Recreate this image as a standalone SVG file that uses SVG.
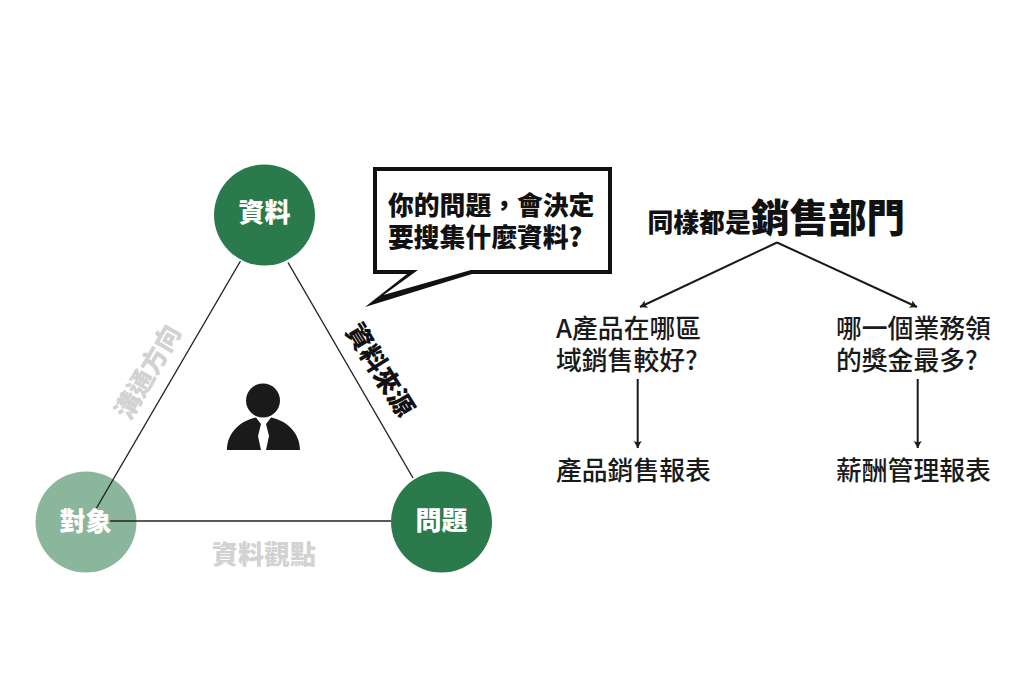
<svg xmlns="http://www.w3.org/2000/svg" width="1024" height="683" viewBox="0 0 1024 683">
<style>
text{font-family:"Noto Sans CJK TC","Liberation Sans",sans-serif}
.b{font-weight:900}
.lab{font-size:26px;font-weight:900;text-anchor:middle}
.w{fill:#fff}
.g{fill:#d2d2d2}
.k{fill:#111}
.t{font-size:25.8px;fill:#1a1a1a;font-weight:500}
.thin{stroke:#222;stroke-width:1.4;fill:none}
.arr{stroke:#1a1a1a;stroke-width:2;fill:none;marker-end:url(#ah)}
</style>
<defs>
<marker id="ah" markerUnits="userSpaceOnUse" markerWidth="9" markerHeight="9" refX="7" refY="4" orient="auto">
<path d="M0 0L7 4L0 8L1.5 4Z" fill="#1a1a1a"/>
</marker>
</defs>
<rect width="1024" height="683" fill="#fff"/>
<g id="node-data"><circle cx="264.500" cy="215" r="50.500" fill="#2b7a4b"/><text class="lab w" x="264.500" y="222">資料</text></g>
<g id="node-target"><circle cx="86" cy="522" r="50.500" fill="#8ab69b"/><text class="lab w" x="85.500" y="531">對象</text></g>
<g id="node-question"><circle cx="441.500" cy="522" r="50.500" fill="#2b7a4b"/><text class="lab w" x="441.500" y="530">問題</text></g>
<g id="connectors">
<path class="thin" d="M240.500 261L96.500 508"/>
<path class="thin" d="M288 262.500L413 478"/>
<path class="thin" d="M110 521H391"/>
<path class="arr" d="M777 242.500L640 307"/>
<path class="arr" d="M777 242.500L917 307"/>
<path class="arr" d="M637.700 379V448"/>
<path class="arr" d="M917.700 379V448"/>
</g>
<g id="person">
<circle cx="263" cy="400.500" r="17" fill="#1a1a1a"/>
<path fill="#1a1a1a" d="M227 450C227 434 239 421 256 417.500L259 421.500L261 424L258 436L261 450ZM300 450C300 434 288 421 271 417.500L268 421.500L266 424L269 436L266 450Z"/>
</g>
<g id="bubble">
<path d="M373 167H612V274H472L365 307L407 274H373Z" fill="#111"/>
<path d="M377 171H608V270H471L383.500 295L418 270H377Z" fill="#fff"/>
<text class="b k" font-size="25.800" x="388" y="215">你的問題&#65292;會決定</text>
<text class="b k" font-size="25.800" x="388" y="247">要搜集什麼資料?</text>
</g>
<g id="edge-labels">
<text class="lab k" transform="translate(380 370) rotate(58)" y="9">資料來源</text>
<text class="lab g" transform="translate(148 372) rotate(-60)" y="9">溝通方向</text>
<text class="lab g" x="264" y="564">資料觀點</text>
</g>
<g id="title">
<text class="b k" font-size="25.800" x="647.500" y="232">同樣都是</text>
<text class="b k" font-size="38.500" x="751" y="232">銷售部門</text>
</g>
<g id="q-left">
<text class="t" x="556" y="338">A產品在哪區</text>
<text class="t" x="556" y="370">域銷售較好?</text>
</g>
<g id="q-right">
<text class="t" x="836" y="338">哪一個業務領</text>
<text class="t" x="836" y="370">的獎金最多?</text>
</g>
<g id="report-left"><text class="t" x="556" y="480">產品銷售報表</text></g>
<g id="report-right"><text class="t" x="836" y="480">薪酬管理報表</text></g>
</svg>
